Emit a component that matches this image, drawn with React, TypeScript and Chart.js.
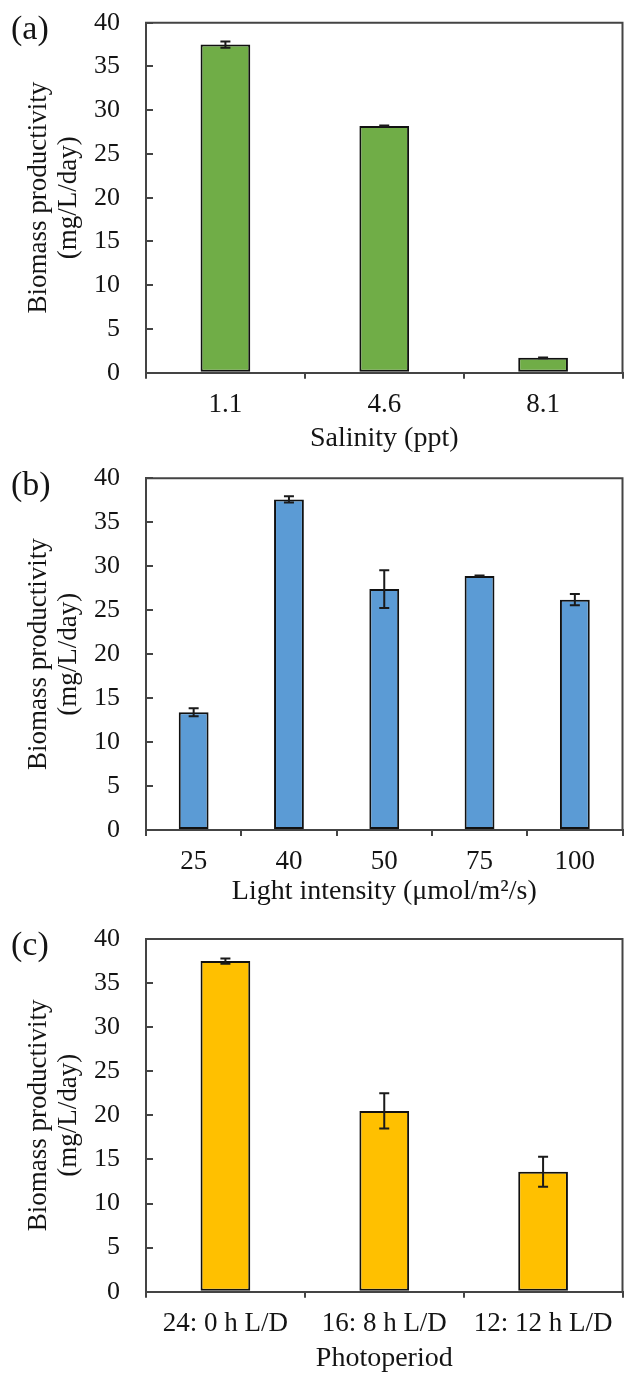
import React, { useEffect, useRef } from 'react';
import { Chart, registerables } from 'chart.js';

Chart.register(...registerables);

// ---- data ----
const salinityLabels = ['1.1', '4.6', '8.1'];
const salinityValues = [37.5, 28.2, 1.7];
const salinityErrors = [0.35, 0.05, 0.05];

const lightLabels = ['25', '40', '50', '75', '100'];
const lightValues = [13.4, 37.6, 27.4, 28.9, 26.2];
const lightErrors = [0.45, 0.35, 2.15, 0.05, 0.65];

const photoLabels = ['24: 0 h L/D', '16: 8 h L/D', '12: 12 h L/D'];
const photoValues = [37.5, 20.5, 13.6];
const photoErrors = [0.3, 2.0, 1.7];

const yMin = 0;
const yMax = 40;
const yStep = 5;
const yTitleLines = ['Biomass productivity', '(mg/L/day)'];

const FONT = "'Liberation Serif', 'Times New Roman', serif";
const AXIS = '#444444';
const TEXT = '#141414';

type PanelProps = {
  tag: string;
  labels: string[];
  values: number[];
  errors: number[];
  color: string;
  xTitle: string;
  top: number;
  height: number;
  chartTop: number;
  chartBottom: number;
  titlePad: number;
  tagTop: number;
};

function Panel(p: PanelProps) {
  const ref = useRef<HTMLCanvasElement | null>(null);
  useEffect(() => {
    if (!ref.current) return;
    const errors = p.errors;
    const plugin = {
      id: 'frameAndErrors',
      afterDatasetsDraw(chart: any) {
        const ctx = chart.ctx;
        const { left, right, top, bottom } = chart.chartArea;
        ctx.save();
        ctx.strokeStyle = AXIS;
        ctx.lineWidth = 2;
        ctx.beginPath();
        ctx.moveTo(left - 1, top);
        ctx.lineTo(right, top);
        ctx.lineTo(right, bottom);
        ctx.stroke();
        const meta = chart.getDatasetMeta(0);
        const ys = chart.scales.y;
        const vals = chart.data.datasets[0].data as number[];
        ctx.strokeStyle = '#1a1a1a';
        ctx.lineWidth = 2;
        meta.data.forEach((bar: any, i: number) => {
          const v = vals[i];
          const e = errors[i];
          const yT = ys.getPixelForValue(v + e);
          const yB = ys.getPixelForValue(v - e);
          const x = bar.x;
          ctx.beginPath();
          ctx.moveTo(x, yT);
          ctx.lineTo(x, yB);
          ctx.moveTo(x - 5, yT);
          ctx.lineTo(x + 5, yT);
          ctx.moveTo(x - 5, yB);
          ctx.lineTo(x + 5, yB);
          ctx.stroke();
        });
        ctx.restore();
      },
    };
    const xHeight = p.height - p.chartBottom;
    const chart = new Chart(ref.current, {
      type: 'bar',
      data: {
        labels: p.labels,
        datasets: [
          {
            data: p.values,
            backgroundColor: p.color,
            borderColor: '#111111',
            borderWidth: 2,
            borderSkipped: false,
            barPercentage: 0.313,
            categoryPercentage: 1,
          },
        ],
      },
      options: {
        responsive: false,
        animation: false,
        devicePixelRatio: 1,
        layout: { padding: { top: p.chartTop, right: 1.5, left: 0, bottom: 0 } },
        plugins: {
          legend: { display: false },
          tooltip: { enabled: false },
          title: { display: false },
        },
        scales: {
          x: {
            type: 'category',
            grid: {
              display: true,
              offset: true,
              drawOnChartArea: false,
              drawTicks: true,
              tickLength: 6,
              color: AXIS,
              lineWidth: 2,
            },
            border: { display: true, color: AXIS, width: 2 },
            ticks: {
              color: TEXT,
              font: { family: FONT, size: 27 },
              padding: 9.8,
              maxRotation: 0,
              autoSkip: false,
            },
            title: {
              display: true,
              text: p.xTitle,
              color: TEXT,
              font: { family: FONT, size: 28, lineHeight: 1 },
              padding: { top: 0, bottom: p.titlePad },
            },
            afterFit(scale: any) {
              scale.height = xHeight;
              scale.paddingLeft = 0;
              scale.paddingRight = 0;
            },
          },
          y: {
            type: 'linear',
            min: yMin,
            max: yMax,
            ticks: {
              stepSize: yStep,
              color: TEXT,
              font: { family: FONT, size: 26 },
              padding: 33,
            },
            grid: {
              display: true,
              drawOnChartArea: false,
              drawTicks: true,
              tickLength: -7,
              color: AXIS,
              lineWidth: 2,
            },
            border: { display: true, color: AXIS, width: 2 },
            title: {
              display: true,
              text: yTitleLines,
              color: TEXT,
              font: { family: FONT, size: 27, lineHeight: '30px' },
              padding: { top: 24, bottom: 0 },
            },
            afterFit(scale: any) {
              scale.width = 146;
              scale.paddingTop = 0;
              scale.paddingBottom = 0;
            },
          },
        },
      },
      plugins: [plugin],
    } as any);
    return () => chart.destroy();
  }, []);
  return (
    <div style={{ position: 'absolute', left: 0, top: p.top, width: 624, height: p.height }}>
      <canvas
        ref={ref}
        width={624}
        height={p.height}
        style={{ display: 'block', width: 624, height: p.height }}
      />
      <div
        style={{
          position: 'absolute',
          left: 11,
          top: p.tagTop,
          fontFamily: FONT,
          fontSize: 34,
          lineHeight: '34px',
          color: TEXT,
          whiteSpace: 'nowrap',
        }}
      >
        {p.tag}
      </div>
    </div>
  );
}

export default function App() {
  return (
    <div
      style={{
        position: 'absolute',
        left: 0,
        top: 0,
        width: 624,
        height: 1377,
        background: '#ffffff',
        overflow: 'hidden',
      }}
    >
      <Panel
        tag="(a)"
        labels={salinityLabels}
        values={salinityValues}
        errors={salinityErrors}
        color="#70AD47"
        xTitle="Salinity (ppt)"
        top={0}
        height={456}
        chartTop={22.7}
        chartBottom={372.7}
        titlePad={3.2}
        tagTop={11}
      />
      <Panel
        tag="(b)"
        labels={lightLabels}
        values={lightValues}
        errors={lightErrors}
        color="#5B9BD5"
        xTitle="Light intensity (μmol/m²/s)"
        top={456}
        height={461}
        chartTop={22.3}
        chartBottom={374}
        titlePad={10.9}
        tagTop={11}
      />
      <Panel
        tag="(c)"
        labels={photoLabels}
        values={photoValues}
        errors={photoErrors}
        color="#FFC000"
        xTitle="Photoperiod"
        top={917}
        height={460}
        chartTop={22}
        chartBottom={374.7}
        titlePad={4.2}
        tagTop={10}
      />
    </div>
  );
}
